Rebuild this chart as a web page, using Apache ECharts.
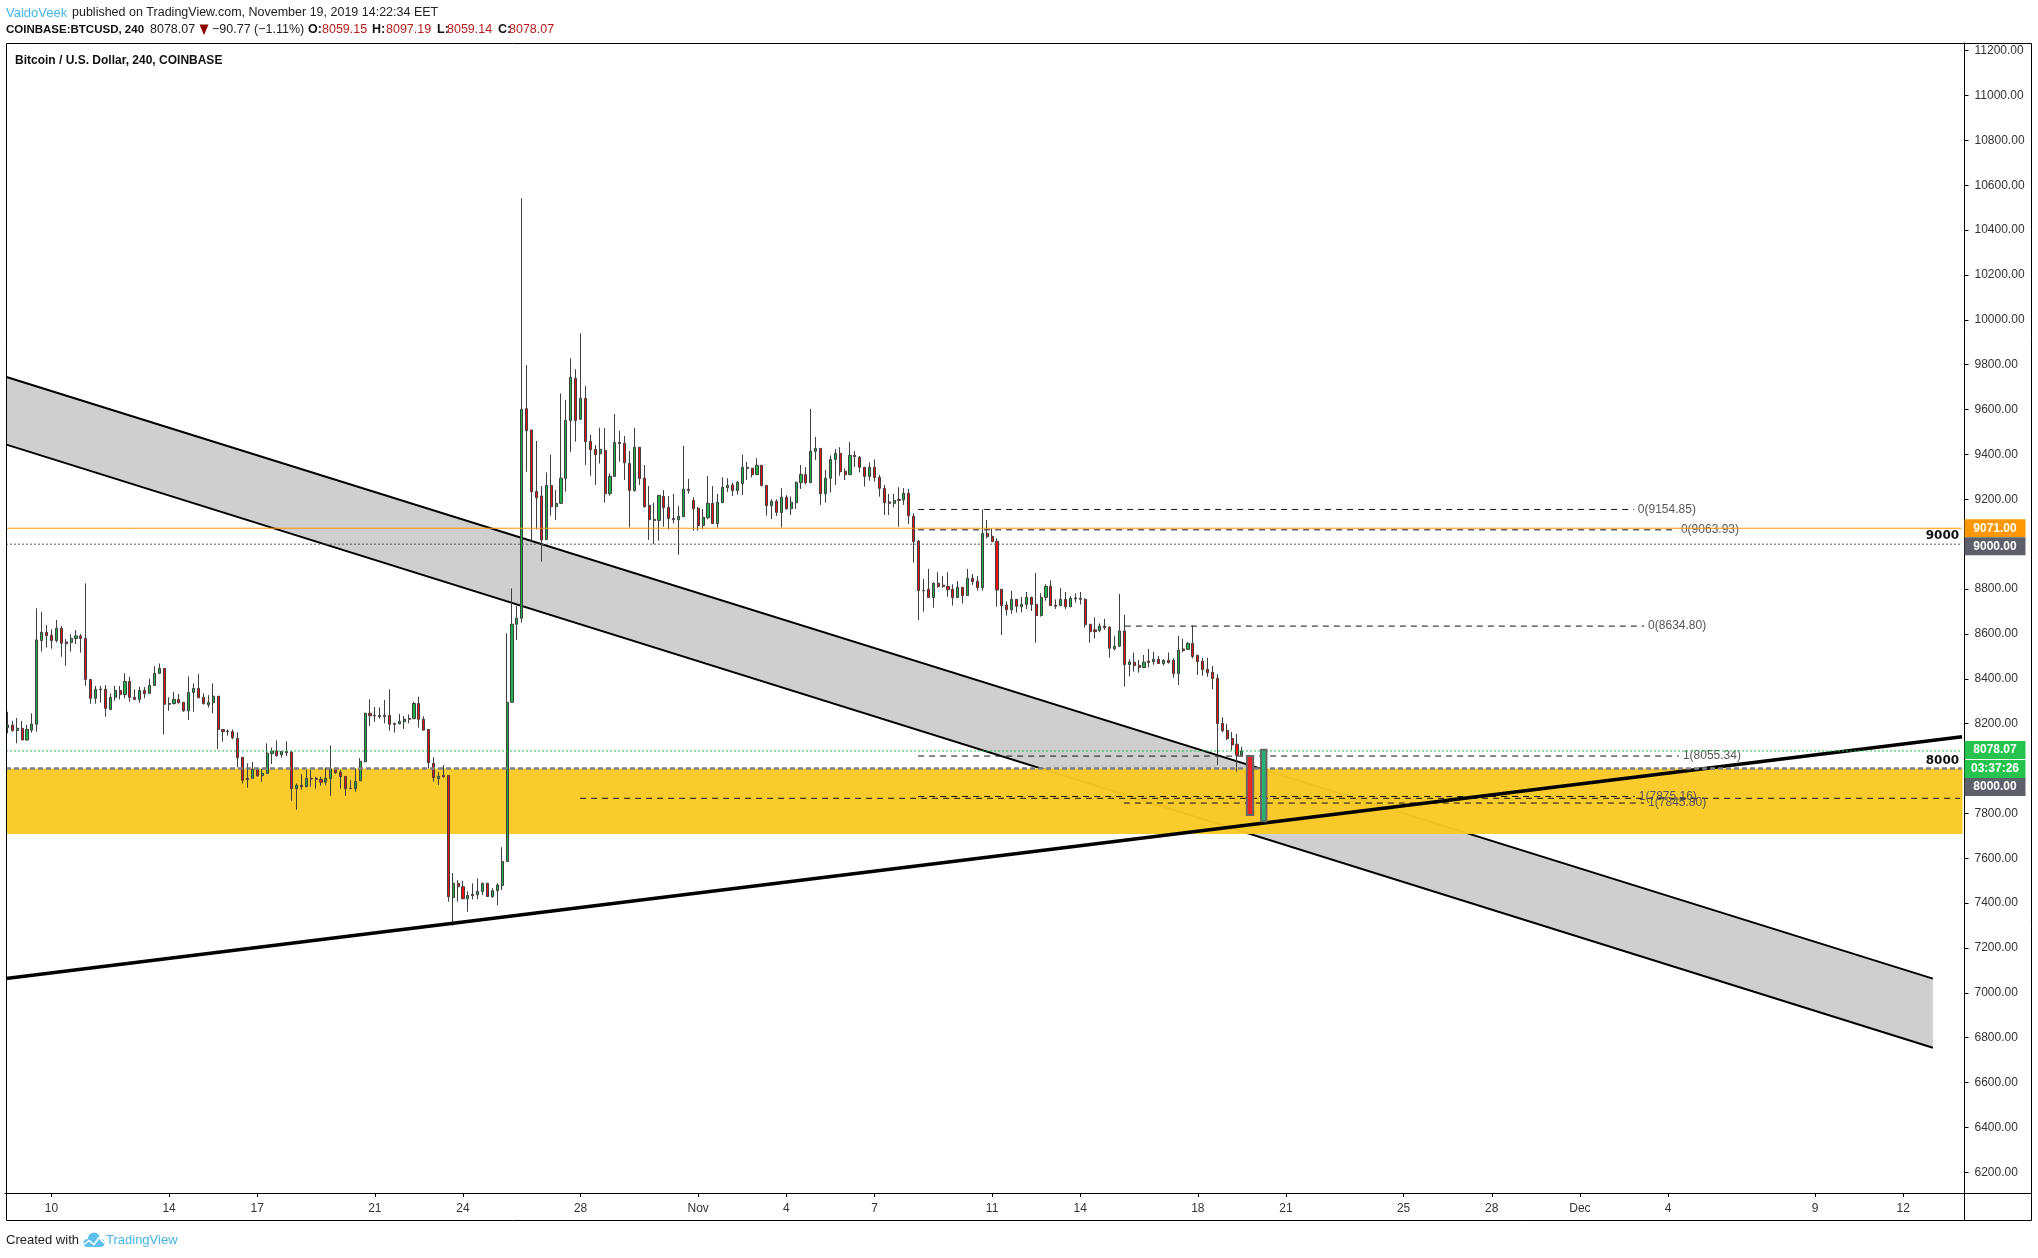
<!DOCTYPE html>
<html>
<head>
<meta charset="utf-8">
<style>html,body{margin:0;padding:0;background:#fff}#c{width:2038px;height:1258px}</style>
<script src="https://cdn.jsdelivr.net/npm/echarts@6/dist/echarts.min.js"></script>
</head>
<body>
<div id="c"></div>
<script>
// [open, close, low, high], one 240-minute bar per row
const ohlc = [
[8182,8194,8157,8253],[8194,8169,8164,8212],[8169,8179,8112,8225],[8179,8127,8127,8212],[8127,8174,8124,8194],[8171,8198,8160,8246],
[8197,8573,8164,8714],[8570,8607,8521,8698],[8607,8592,8539,8640],[8594,8570,8534,8620],[8570,8625,8562,8662],[8625,8558,8498,8635],
[8564,8556,8458,8577],[8561,8580,8521,8599],[8579,8591,8555,8617],[8591,8580,8516,8599],[8580,8397,8369,8825],[8397,8313,8289,8399],
[8313,8353,8289,8368],[8354,8351,8293,8368],[8353,8268,8231,8372],[8263,8317,8260,8335],[8317,8348,8302,8368],[8348,8330,8308,8368],
[8330,8388,8313,8425],[8388,8317,8297,8409],[8317,8308,8305,8353],[8308,8348,8293,8364],[8348,8333,8313,8363],[8335,8370,8333,8399],
[8370,8424,8370,8456],[8424,8446,8422,8468],[8446,8286,8152,8446],[8290,8286,8257,8317],[8289,8308,8286,8341],[8308,8293,8290,8332],
[8295,8257,8253,8295],[8257,8339,8216,8410],[8339,8357,8253,8379],[8357,8315,8315,8421],[8317,8289,8286,8335],[8284,8295,8272,8327],
[8293,8322,8246,8379],[8322,8174,8087,8323],[8174,8164,8119,8174],[8167,8164,8146,8174],[8164,8137,8130,8174],[8134,8048,8005,8161],
[8050,7948,7933,8050],[7956,7950,7914,8023],[7956,7996,7955,8029],[7996,7968,7963,7998],[7968,7978,7941,7998],[7978,8068,7977,8112],
[8066,8078,8020,8093],[8078,8057,8053,8125],[8061,8076,8048,8078],[8076,8070,8055,8121],[8073,7910,7856,8079],[7910,7925,7816,7933],
[7925,7919,7905,7975],[7919,7956,7916,7993],[7956,7953,7919,7993],[7956,7951,7910,7963],[7951,7939,7923,7963],[7939,7956,7925,8005],
[7955,7999,7878,8103],[7998,7981,7975,8005],[7983,7963,7910,7993],[7965,7910,7878,7966],[7911,7910,7910,7948],[7910,7942,7896,8000],
[7945,8032,7945,8046],[8030,8246,8027,8249],[8246,8235,8189,8308],[8237,8234,8208,8274],[8237,8231,8222,8272],[8237,8231,8201,8305],
[8237,8197,8169,8353],[8201,8197,8160,8204],[8199,8210,8197,8243],[8208,8220,8176,8234],[8223,8219,8201,8241],[8222,8290,8220,8297],
[8290,8219,8182,8320],[8219,8171,8169,8232],[8174,8026,8000,8176],[8023,7959,7941,8050],[7955,7965,7926,7984],[7969,7963,7959,8015],
[7969,7428,7406,7969],[7424,7488,7299,7534],[7488,7473,7406,7502],[7473,7419,7418,7499],[7419,7434,7361,7453],[7439,7433,7416,7488],
[7437,7452,7418,7510],[7451,7488,7436,7491],[7488,7429,7429,7490],[7429,7455,7423,7466],[7455,7481,7391,7488],[7478,7585,7458,7649],
[7585,8295,7585,8603],[8295,8643,8295,8803],[8643,8670,8573,8725],[8670,9601,8650,10542],[9604,9506,9323,9799],[9509,9234,9011,9509],
[9235,9207,9066,9460],[9215,9019,8922,9259],[9020,9262,9019,9320],[9262,9167,9127,9398],[9167,9182,9108,9241],[9182,9294,9179,9672],
[9294,9552,9234,9643],[9551,9744,9412,9829],[9739,9551,9457,9780],[9557,9650,9554,9940],[9650,9457,9353,9705],[9458,9421,9305,9487],
[9423,9399,9264,9442],[9403,9423,9360,9519],[9418,9225,9185,9518],[9225,9302,9216,9316],[9302,9454,9301,9580],[9454,9448,9368,9505],
[9450,9363,9286,9482],[9360,9239,9074,9415],[9239,9432,9234,9518],[9432,9292,9264,9432],[9294,9167,9163,9353],[9173,9109,9019,9259],
[9111,9105,9000,9185],[9106,9218,9016,9219],[9213,9163,9078,9241],[9164,9114,9065,9215],[9115,9109,9092,9224],[9109,9124,8953,9170],
[9123,9245,9120,9438],[9245,9239,9225,9291],[9195,9158,9060,9209],[9160,9083,9060,9166],[9083,9120,9066,9157],[9118,9182,9111,9304],
[9182,9092,9090,9259],[9092,9187,9074,9224],[9185,9254,9185,9298],[9252,9262,9233,9294],[9264,9239,9215,9274],[9239,9276,9221,9282],
[9270,9343,9219,9398],[9343,9337,9286,9367],[9339,9310,9297,9340],[9310,9352,9310,9383],[9352,9262,9257,9353],[9262,9172,9127,9262],
[9172,9191,9112,9200],[9191,9142,9126,9200],[9141,9209,9074,9249],[9209,9158,9153,9219],[9158,9187,9130,9212],[9185,9276,9157,9279],
[9274,9311,9246,9353],[9311,9274,9267,9343],[9274,9414,9274,9603],[9414,9427,9375,9478],[9427,9225,9175,9427],[9225,9294,9185,9331],
[9294,9378,9230,9396],[9378,9405,9264,9424],[9405,9323,9305,9432],[9325,9310,9286,9338],[9310,9396,9308,9455],[9396,9390,9344,9415],
[9387,9343,9320,9393],[9343,9302,9257,9343],[9302,9343,9283,9365],[9343,9297,9279,9378],[9298,9249,9212,9309],[9249,9185,9130,9264],
[9188,9182,9130,9224],[9182,9195,9164,9224],[9200,9195,9078,9254],[9197,9227,9175,9250],[9227,9127,9090,9246],[9124,9011,8918,9138],
[9014,8793,8662,9019],[8794,8792,8699,8845],[8799,8762,8762,8890],[8762,8826,8717,8830],[8826,8811,8806,8875],[8817,8811,8806,8858],
[8812,8797,8766,8875],[8799,8762,8726,8821],[8762,8808,8762,8836],[8808,8771,8735,8808],[8771,8848,8771,8890],[8848,8833,8818,8867],
[8835,8806,8793,8858],[8806,9048,8793,9155],[9048,9033,9026,9108],[9035,9011,9011,9071],[9013,8796,8721,9026],[8799,8726,8595,8800],
[8729,8708,8682,8744],[8708,8754,8690,8792],[8754,8723,8695,8754],[8721,8732,8696,8765],[8731,8763,8711,8787],[8763,8731,8702,8766],
[8731,8682,8561,8872],[8682,8763,8677,8781],[8763,8812,8748,8821],[8812,8726,8725,8839],[8728,8723,8711,8754],[8726,8754,8726,8805],
[8754,8721,8711,8787],[8721,8759,8721,8768],[8760,8756,8740,8781],[8759,8754,8731,8787],[8754,8641,8628,8759],[8643,8610,8561,8644],
[8618,8610,8579,8674],[8615,8635,8607,8647],[8635,8628,8618,8667],[8630,8536,8494,8634],[8534,8545,8526,8591],[8545,8613,8542,8778],
[8613,8463,8365,8685],[8463,8475,8410,8487],[8474,8459,8432,8517],[8460,8450,8427,8484],[8450,8474,8450,8506],[8479,8472,8451,8533],
[8476,8487,8462,8520],[8487,8468,8468,8502],[8468,8482,8459,8487],[8482,8472,8468,8517],[8482,8423,8405,8491],[8423,8527,8372,8591],
[8533,8526,8518,8578],[8531,8558,8528,8563],[8558,8499,8491,8638],[8505,8476,8417,8506],[8478,8441,8414,8493],[8442,8427,8409,8494],
[8429,8401,8353,8457],[8402,8200,8015,8420],[8201,8169,8161,8229],[8170,8133,8127,8198],[8134,8105,8082,8163],[8108,8059,7986,8154],
[8059.15,8078.07,8059.14,8097.19]
];

const barCount = 400;
const firstBarUtc = Date.UTC(2019, 9, 8, 12);
const categories = Array.from({length: barCount}, (_, i) =>
  new Date(firstBarUtc + i * 4 * 3600e3).toISOString().slice(0, 16));

const tickDates = ['2019-10-10','2019-10-14','2019-10-17','2019-10-21','2019-10-24','2019-10-28','2019-11-01','2019-11-04','2019-11-07','2019-11-11','2019-11-14','2019-11-18','2019-11-21','2019-11-25','2019-11-28','2019-12-01','2019-12-04','2019-12-09','2019-12-12'];
const tickLabels = ['10','14','17','21','24','28','Nov','4','7','11','14','18','21','25','28','Dec','4','9','12'];
const priceTicks = [6200,6400,6600,6800,7000,7200,7400,7600,7800,8000,8200,8400,8600,8800,9000,9200,9400,9600,9800,10000,10200,10400,10600,10800,11000,11200];

// drawings: x is measured in bars from the left edge of the plot, y in USD
const channelX = [0.3, 393.55];
const channelUpper = [9745, 7063];
const channelLower = [9444, 6755];
const supportX = [0.2, 399.5];
const supportPrice = [7064, 8141.6];
const zoneBox = [0.2, 399.6, 8000, 7708];
const signalBoxes = [[253.5, 254.8, 8056, 7792], [256.4, 257.5, 8084, 7765]];
const signalColors = ['#e8262a', '#25b374'];

const fibPrices = [9154.85, 9063.93, 8634.80, 8055.34, 7875.16, 7845.80, 7867];
const fibStarts = [186.4, 186.4, 228.6, 186.4, 186.4, 228.4, 117.4];
const fibEnds = [332.5, 341.3, 334.6, 341.7, 332.7, 334.6, 399.1];
const fibTexts = ['0(9154.85)', '0(9063.93)', '0(8634.80)', '1(8055.34)', '1(7875.16)', '1(7845.80)', ''];

const levelPrices = [9071, 9000, 8000, 8078.07];
const levelColors = ['#ff9800', '#555760', '#7e808a', '#1fc24d'];
const levelWidths = [1, 1, 2.5, 1];
const levelDashes = ['solid', [2, 2], [5, 3], [2, 2]];

const roundTexts = ['9000', '8000'];
const roundPrices = [9000, 8000];

const tagPrices = [9071, 9000, 8078.07, 8078.07, 8000];
const tagTexts = ['9071.00', '9000.00', '8078.07', '03:37:26', '8000.00'];
const tagColors = ['#ff9800', '#5d606b', '#26c44e', '#26c44e', '#5d606b'];
const tagOffsets = [0, 2.2, -1, 18, 18.6];

const FONT = '"Liberation Sans", Arial, sans-serif';
const chart = echarts.init(document.getElementById('c'), null, {renderer: 'canvas', width: 2038, height: 1258});
const tickMap = new Map(tickDates.map((d, i) => [d + 'T00:00', tickLabels[i]]));

function lineSeries(name, xs, ys, color, width, type, z, label) {
  const s = {
    name, type: 'line', xAxisIndex: 1, yAxisIndex: 0, z, silent: true, symbol: 'none', showSymbol: false, clip: true,
    data: [[xs[0], ys[0]], [xs[1], ys[1]]],
    lineStyle: {color, width, type, cap: 'butt'}
  };
  if (label) s.endLabel = {show: true, formatter: label, color: '#555', fontSize: 12, fontFamily: FONT, distance: 4};
  return s;
}

const series = [];

series.push({
  type: 'custom', name: 'channel fill', xAxisIndex: 1, yAxisIndex: 0, z: 1, silent: true, clip: true,
  data: [[channelX[0], channelUpper[0], channelLower[0]], [channelX[1], channelUpper[1], channelLower[1]]],
  encode: {x: 0, y: [1, 2]},
  renderItem(params, api) {
    if (params.dataIndex !== 0) return null;
    const pts = [
      api.coord([channelX[0], channelUpper[0]]), api.coord([channelX[1], channelUpper[1]]),
      api.coord([channelX[1], channelLower[1]]), api.coord([channelX[0], channelLower[0]])
    ];
    return {type: 'polygon', shape: {points: pts}, style: {fill: '#cfcfcf'}, silent: true};
  }
});
series.push(lineSeries('channel upper', channelX, channelUpper, '#000', 2, 'solid', 2));
series.push(lineSeries('channel lower', channelX, channelLower, '#000', 2, 'solid', 2));

function rectItem(api, b, style) {
  const a = api.coord([b[0], b[2]]), c = api.coord([b[1], b[3]]);
  return {type: 'rect', shape: {x: a[0], y: a[1], width: c[0] - a[0], height: c[1] - a[1]}, style, silent: true};
}
series.push({
  type: 'custom', name: 'zone', xAxisIndex: 1, yAxisIndex: 0, z: 3, silent: true, clip: true,
  data: [zoneBox], encode: {x: [0, 1], y: [2, 3]},
  renderItem: (p, api) => rectItem(api, zoneBox, {fill: 'rgba(250,201,35,0.96)'})
});

fibPrices.forEach((p, i) => {
  series.push(lineSeries('fib ' + i, [fibStarts[i], fibEnds[i]], [p, p], '#111', 1, [6, 5], 4, fibTexts[i] || undefined));
});
series.push(lineSeries('support', supportX, supportPrice, '#000', 3.5, 'solid', 6));

series.push({
  type: 'candlestick', name: 'BTCUSD', xAxisIndex: 0, yAxisIndex: 0, z: 5, silent: true, clip: true,
  data: ohlc, barWidth: 2.6,
  itemStyle: {color: '#1bb146', color0: '#f60f0f', borderColor: '#3f3f3f', borderColor0: '#3f3f3f', borderColorDoji: '#3f3f3f', borderWidth: 1}
});

levelPrices.forEach((p, i) => {
  series.push(lineSeries('level ' + p, [0.2, 399.4], [p, p], levelColors[i], levelWidths[i], levelDashes[i], 7));
});

series.push({
  type: 'custom', name: 'signal boxes', xAxisIndex: 1, yAxisIndex: 0, z: 8, silent: true, clip: true,
  data: signalBoxes, encode: {x: [0, 1], y: [2, 3]},
  renderItem: (p, api) => rectItem(api, signalBoxes[p.dataIndex], {fill: signalColors[p.dataIndex], stroke: '#666', lineWidth: 2})
});

series.push({
  type: 'custom', name: 'round numbers', xAxisIndex: 1, yAxisIndex: 0, z: 9, silent: true, clip: false,
  data: roundPrices.map(p => [399, p]), encode: {x: 0, y: 1},
  renderItem(p, api) {
    const c = api.coord([399, roundPrices[p.dataIndex]]);
    return {type: 'text', x: c[0] - 0.5, y: c[1] - 2, silent: true,
      style: {text: roundTexts[p.dataIndex], fill: '#111', font: 'bold 12px "DejaVu Sans"', textAlign: 'right', textVerticalAlign: 'bottom'}};
  }
});

series.push({
  type: 'custom', name: 'price tags', xAxisIndex: 1, yAxisIndex: 0, z: 20, silent: true, clip: false,
  data: tagPrices.map(p => [400, p]), encode: {x: 0, y: 1},
  renderItem(p, api) {
    const i = p.dataIndex;
    const c = api.coord([400, tagPrices[i]]);
    const cy = c[1] + tagOffsets[i];
    return {type: 'group', silent: true, children: [
      {type: 'rect', shape: {x: c[0], y: cy - 9, width: 61, height: 18}, style: {fill: tagColors[i]}},
      {type: 'text', x: c[0] + 30.5, y: cy, style: {text: tagTexts[i], fill: '#fff', font: 'bold 12px ' + FONT, textAlign: 'center', textVerticalAlign: 'middle'}}
    ]};
  }
});

const frame = (x1, y1, x2, y2) => ({type: 'line', z: 30, shape: {x1, y1, x2, y2}, style: {stroke: '#000', lineWidth: 1}, silent: true});
const txt = (x, y, text, fill, weight, size) => ({type: 'text', z: 31, x, y, silent: true,
  style: {text, fill, font: (weight ? weight + ' ' : '') + (size || 12.5) + 'px ' + FONT, textVerticalAlign: 'middle'}});

const graphic = [
  frame(6.5, 43.5, 2031.5, 43.5), frame(6.5, 1220.5, 2031.5, 1220.5),
  frame(6.5, 43.5, 6.5, 1220.5), frame(2031.5, 43.5, 2031.5, 1220.5),
  frame(6.5, 1193.5, 2031.5, 1193.5), frame(1964.5, 1193.5, 1964.5, 1220.5),
  txt(6, 13, 'VaidoVeek', '#45b5ea', '', 13),
  txt(72, 13, 'published on TradingView.com, November 19, 2019 14:22:34 EET', '#222'),
  txt(6, 29.5, 'COINBASE:BTCUSD, 240', '#111', 'bold', 11.5),
  txt(150, 29.5, '8078.07', '#222'),
  {type: 'polygon', z: 31, silent: true, shape: {points: [[199.5, 24.5], [208.5, 24.5], [204, 35]]}, style: {fill: '#8b0000'}},
  txt(212, 29.5, '\u221290.77 (\u22121.11%)', '#222'),
  txt(308, 29.5, 'O:', '#111', 'bold'), txt(322, 29.5, '8059.15', '#b71c1c'),
  txt(372, 29.5, 'H:', '#111', 'bold'), txt(386, 29.5, '8097.19', '#b71c1c'),
  txt(437, 29.5, 'L:', '#111', 'bold'), txt(447, 29.5, '8059.14', '#b71c1c'),
  txt(498, 29.5, 'C:', '#111', 'bold'), txt(509, 29.5, '8078.07', '#b71c1c'),
  txt(15, 60.5, 'Bitcoin / U.S. Dollar, 240, COINBASE', '#111', 'bold', 12),
  txt(6, 1240.5, 'Created with', '#222', '', 13),
  {type: 'circle', z: 31, silent: true, shape: {cx: 94, cy: 1238.5, r: 6}, style: {fill: '#5cc0ea'}},
  {type: 'circle', z: 31, silent: true, shape: {cx: 87.5, cy: 1243, r: 4}, style: {fill: '#5cc0ea'}},
  {type: 'circle', z: 31, silent: true, shape: {cx: 100.5, cy: 1243, r: 4}, style: {fill: '#5cc0ea'}},
  {type: 'rect', z: 31, silent: true, shape: {x: 87.5, y: 1240, width: 13, height: 7}, style: {fill: '#5cc0ea'}},
  {type: 'polyline', z: 32, silent: true, shape: {points: [[84, 1244.5], [89, 1240.5], [94, 1244.5], [99, 1237.5], [104, 1243]]}, style: {stroke: '#fff', lineWidth: 1.6, fill: null}},
  txt(106, 1240.5, 'TradingView', '#45b5ea', '', 13)
];

chart.setOption({
  animation: false,
  backgroundColor: '#fff',
  grid: {left: 5, top: 43, width: 1959.5, height: 1150, containLabel: false, show: false},
  xAxis: [{
    type: 'category', data: categories, boundaryGap: true, position: 'bottom',
    axisLine: {show: true, lineStyle: {color: '#000', width: 1}},
    axisTick: {show: true, alignWithLabel: true, length: 4, interval: (i, v) => tickMap.has(v), lineStyle: {color: '#000'}},
    axisLabel: {show: true, hideOverlap: false, interval: (i, v) => tickMap.has(v), formatter: v => tickMap.get(v) || '', color: '#333', fontSize: 12, fontFamily: FONT, margin: 10},
    splitLine: {show: false}
  }, {
    type: 'value', min: 0, max: barCount, show: false, position: 'bottom'
  }],
  yAxis: [{
    type: 'value', position: 'right', min: 6107.3, max: 11234.4, scale: true,
    axisLine: {show: true, onZero: false, lineStyle: {color: '#000', width: 1}},
    axisTick: {show: true, length: 4, customValues: priceTicks, lineStyle: {color: '#000'}},
    axisLabel: {show: true, customValues: priceTicks, formatter: v => v.toFixed(2), color: '#333', fontSize: 12, fontFamily: FONT, margin: 10, showMinLabel: true, showMaxLabel: true},
    splitLine: {show: false}
  }],
  series,
  graphic
});
</script>
</body>
</html>
